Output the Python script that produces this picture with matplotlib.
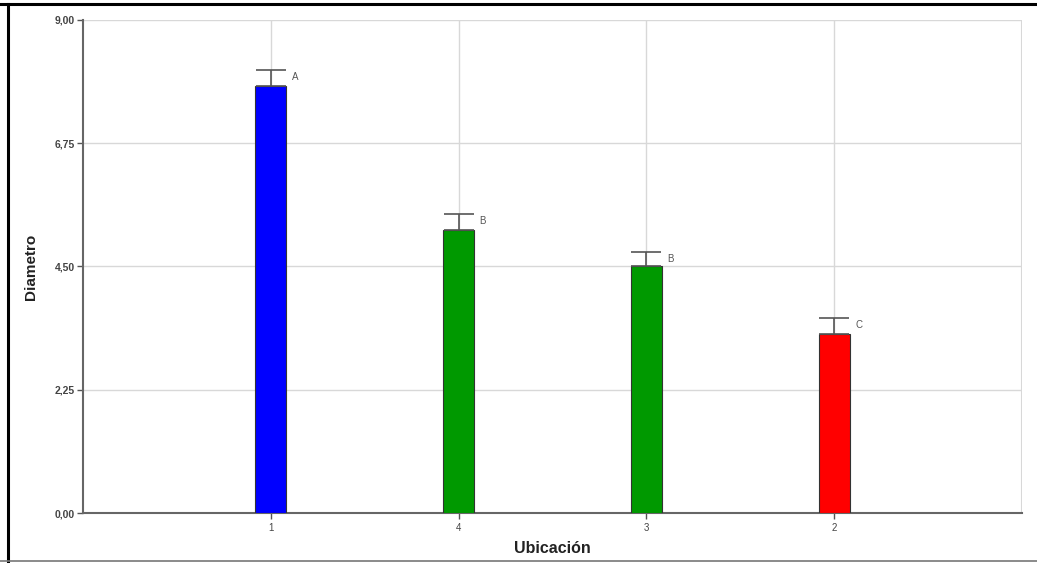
import matplotlib
matplotlib.use('Agg')
import matplotlib.pyplot as plt
from matplotlib.lines import Line2D

# mean diameter by location, with standard error and Tukey group letters
ubicacion = ['1', '4', '3', '2']
diametro = [7.79, 5.17, 4.51, 3.27]
error = [0.30, 0.29, 0.25, 0.29]
grupos = ['A', 'B', 'B', 'C']
colores = ['#0000ff', '#009900', '#009900', '#ff0000']
yticks = [0.0, 2.25, 4.5, 6.75, 9.0]

plt.rcParams['font.family'] = ['Liberation Sans', 'DejaVu Sans']

fig = plt.figure(figsize=(10.37, 5.63), dpi=100)
ax = fig.add_axes([0.0800, 0.0888, 0.9055, 0.8757])

x = range(1, len(ubicacion) + 1)
ax.bar(x, diametro, width=0.165, color=colores, edgecolor='#333333', linewidth=0.8, zorder=3)
ax.errorbar(x, diametro, yerr=[[0]*len(error), error], fmt='none', ecolor='#555555',
            elinewidth=1.2, capsize=11, capthick=1.2, zorder=4)
for xi, yi, e, g in zip(x, diametro, error, grupos):
  ax.annotate(g, (xi + 0.0825, yi + e), xytext=(4, -5), textcoords='offset points',
              fontsize=7, color='#555555', va='center', ha='left')

ax.set_xlim(0, 5)
ax.set_ylim(0, 9)
ax.set_xticks(list(x))
ax.set_xticklabels(ubicacion, fontsize=7, color='#444444')
ax.set_yticks(yticks)
ax.set_yticklabels([('%.2f' % v).replace('.', ',') for v in yticks],
                   fontsize=7.5, color='#444444', fontweight='bold')
ax.yaxis.set_ticks_position('left')
ax.xaxis.set_ticks_position('bottom')
ax.tick_params(axis='both', length=4, width=1, color='#555555', pad=3)
ax.tick_params(axis='y', length=4, pad=2)

# light grid at every tick plus the right and top edges
ax.grid(True, color='#d8d8d8', linewidth=1.0, zorder=0)
ax.axvline(5, color='#d8d8d8', linewidth=1.5, zorder=0)
for s in ['top', 'right']:
  ax.spines[s].set_visible(False)
for s in ['left', 'bottom']:
  ax.spines[s].set_color('#666666')
  ax.spines[s].set_linewidth(1.5)

ax.set_ylabel('Diametro', fontsize=11, fontweight='bold', color='#222222', labelpad=12)
ax.set_xlabel('Ubicación', fontsize=11.5, fontweight='bold', color='#222222', labelpad=6)

# page frame around the figure
fig.add_artist(Line2D([0, 1], [1 - 4/563, 1 - 4/563], color='black', linewidth=2.2, transform=fig.transFigure))
fig.add_artist(Line2D([8/1037, 8/1037], [0, 1 - 4/563], color='black', linewidth=2.2, transform=fig.transFigure))
fig.add_artist(Line2D([0, 1], [2/563, 2/563], color='#777777', linewidth=1.2, transform=fig.transFigure))

fig.savefig('out.png', dpi=100)
